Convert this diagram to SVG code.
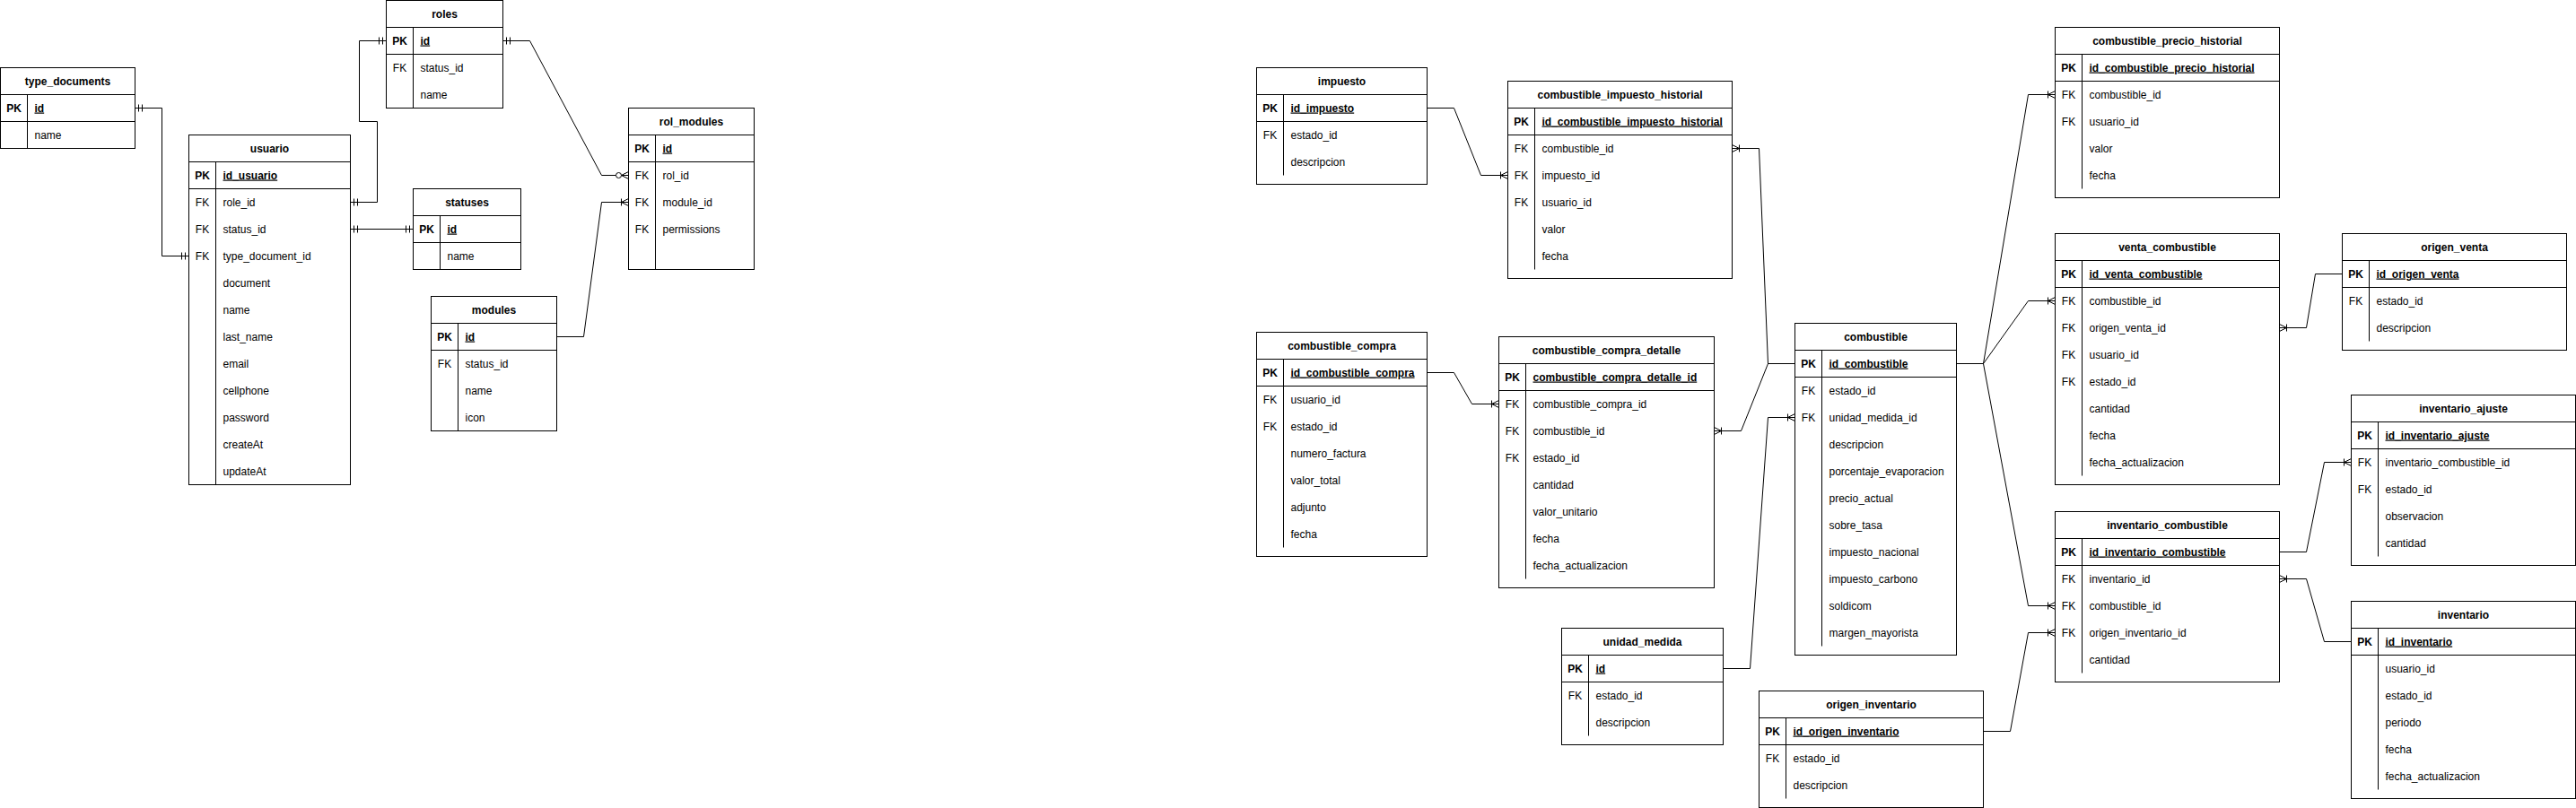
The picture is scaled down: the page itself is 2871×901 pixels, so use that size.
<svg xmlns="http://www.w3.org/2000/svg" width="2871" height="901" viewBox="0 0 2871 901">
<style>
.box{fill:#ffffff;stroke:#000000;stroke-width:1}
.ln{stroke:#000000;stroke-width:1;fill:none}
text{font-family:"Liberation Sans",Arial,Helvetica,sans-serif;font-size:12px;fill:#000000}
.title{font-weight:bold;text-anchor:middle}
.key{text-anchor:middle}
.pk{font-weight:bold}
.pkf{font-weight:bold;text-decoration:underline}
.conn path{stroke:#000000;stroke-width:1;fill:none}
</style>
<defs>
<marker id="mOne" markerUnits="userSpaceOnUse" orient="auto-start-reverse" refX="0" refY="0" markerWidth="20" markerHeight="20" viewBox="-16 -10 20 20" overflow="visible">
<path d="M-4,-4 V4 M-8,-4 V4" stroke="#000" stroke-width="1" fill="none"/>
</marker>
<marker id="mMany" markerUnits="userSpaceOnUse" orient="auto-start-reverse" refX="0" refY="0" markerWidth="20" markerHeight="20" viewBox="-16 -10 20 20" overflow="visible">
<path d="M0,-4 L-8,0 L0,4 M-8,-4 V4" stroke="#000" stroke-width="1" fill="none"/>
</marker>
<marker id="mZeroMany" markerUnits="userSpaceOnUse" orient="auto-start-reverse" refX="0" refY="0" markerWidth="20" markerHeight="20" viewBox="-16 -10 20 20" overflow="visible">
<path d="M0,-4 L-8,0 L0,4" stroke="#000" stroke-width="1" fill="none"/>
<circle cx="-11" cy="0" r="3" fill="#fff" stroke="#000" stroke-width="1"/>
</marker>
</defs>
<rect x="0" y="0" width="2871" height="901" fill="#ffffff"/>
<g transform="translate(0.5,0.5)">

<g id="type_documents">
<rect class="box" x="0" y="75" width="150" height="90"/>
<path class="ln" d="M0,105 H150 M0,135 H150 M30,105 V165"/>
<text class="title" x="75" y="94">type_documents</text>
<text class="key pk" x="15" y="124">PK</text><text class="pkf" x="38" y="124">id</text>
<text x="38" y="154">name</text>
</g>

<g id="roles">
<rect class="box" x="430" y="0" width="130" height="120"/>
<path class="ln" d="M430,30 H560 M430,60 H560 M460,30 V120"/>
<text class="title" x="495" y="19">roles</text>
<text class="key pk" x="445" y="49">PK</text><text class="pkf" x="468" y="49">id</text>
<text class="key" x="445" y="79">FK</text><text x="468" y="79">status_id</text>
<text x="468" y="109">name</text>
</g>

<g id="usuario">
<rect class="box" x="210" y="150" width="180" height="390"/>
<path class="ln" d="M210,180 H390 M210,210 H390 M240,180 V540"/>
<text class="title" x="300" y="169">usuario</text>
<text class="key pk" x="225" y="199">PK</text><text class="pkf" x="248" y="199">id_usuario</text>
<text class="key" x="225" y="229">FK</text><text x="248" y="229">role_id</text>
<text class="key" x="225" y="259">FK</text><text x="248" y="259">status_id</text>
<text class="key" x="225" y="289">FK</text><text x="248" y="289">type_document_id</text>
<text x="248" y="319">document</text>
<text x="248" y="349">name</text>
<text x="248" y="379">last_name</text>
<text x="248" y="409">email</text>
<text x="248" y="439">cellphone</text>
<text x="248" y="469">password</text>
<text x="248" y="499">createAt</text>
<text x="248" y="529">updateAt</text>
</g>

<g id="statuses">
<rect class="box" x="460" y="210" width="120" height="90"/>
<path class="ln" d="M460,240 H580 M460,270 H580 M490,240 V300"/>
<text class="title" x="520" y="229">statuses</text>
<text class="key pk" x="475" y="259">PK</text><text class="pkf" x="498" y="259">id</text>
<text x="498" y="289">name</text>
</g>

<g id="modules">
<rect class="box" x="480" y="330" width="140" height="150"/>
<path class="ln" d="M480,360 H620 M480,390 H620 M510,360 V480"/>
<text class="title" x="550" y="349">modules</text>
<text class="key pk" x="495" y="379">PK</text><text class="pkf" x="518" y="379">id</text>
<text class="key" x="495" y="409">FK</text><text x="518" y="409">status_id</text>
<text x="518" y="439">name</text>
<text x="518" y="469">icon</text>
</g>

<g id="rol_modules">
<rect class="box" x="700" y="120" width="140" height="180"/>
<path class="ln" d="M700,150 H840 M700,180 H840 M730,150 V300"/>
<text class="title" x="770" y="139">rol_modules</text>
<text class="key pk" x="715" y="169">PK</text><text class="pkf" x="738" y="169">id</text>
<text class="key" x="715" y="199">FK</text><text x="738" y="199">rol_id</text>
<text class="key" x="715" y="229">FK</text><text x="738" y="229">module_id</text>
<text class="key" x="715" y="259">FK</text><text x="738" y="259">permissions</text>
</g>

<g id="impuesto">
<rect class="box" x="1400" y="75" width="190" height="130"/>
<path class="ln" d="M1400,105 H1590 M1400,135 H1590 M1430,105 V195"/>
<text class="title" x="1495" y="94">impuesto</text>
<text class="key pk" x="1415" y="124">PK</text><text class="pkf" x="1438" y="124">id_impuesto</text>
<text class="key" x="1415" y="154">FK</text><text x="1438" y="154">estado_id</text>
<text x="1438" y="184">descripcion</text>
</g>

<g id="combustible_impuesto_historial">
<rect class="box" x="1680" y="90" width="250" height="220"/>
<path class="ln" d="M1680,120 H1930 M1680,150 H1930 M1710,120 V300"/>
<text class="title" x="1805" y="109">combustible_impuesto_historial</text>
<text class="key pk" x="1695" y="139">PK</text><text class="pkf" x="1718" y="139">id_combustible_impuesto_historial</text>
<text class="key" x="1695" y="169">FK</text><text x="1718" y="169">combustible_id</text>
<text class="key" x="1695" y="199">FK</text><text x="1718" y="199">impuesto_id</text>
<text class="key" x="1695" y="229">FK</text><text x="1718" y="229">usuario_id</text>
<text x="1718" y="259">valor</text>
<text x="1718" y="289">fecha</text>
</g>

<g id="combustible_compra">
<rect class="box" x="1400" y="370" width="190" height="250"/>
<path class="ln" d="M1400,400 H1590 M1400,430 H1590 M1430,400 V610"/>
<text class="title" x="1495" y="389">combustible_compra</text>
<text class="key pk" x="1415" y="419">PK</text><text class="pkf" x="1438" y="419">id_combustible_compra</text>
<text class="key" x="1415" y="449">FK</text><text x="1438" y="449">usuario_id</text>
<text class="key" x="1415" y="479">FK</text><text x="1438" y="479">estado_id</text>
<text x="1438" y="509">numero_factura</text>
<text x="1438" y="539">valor_total</text>
<text x="1438" y="569">adjunto</text>
<text x="1438" y="599">fecha</text>
</g>

<g id="combustible_compra_detalle">
<rect class="box" x="1670" y="375" width="240" height="280"/>
<path class="ln" d="M1670,405 H1910 M1670,435 H1910 M1700,405 V645"/>
<text class="title" x="1790" y="394">combustible_compra_detalle</text>
<text class="key pk" x="1685" y="424">PK</text><text class="pkf" x="1708" y="424">combustible_compra_detalle_id</text>
<text class="key" x="1685" y="454">FK</text><text x="1708" y="454">combustible_compra_id</text>
<text class="key" x="1685" y="484">FK</text><text x="1708" y="484">combustible_id</text>
<text class="key" x="1685" y="514">FK</text><text x="1708" y="514">estado_id</text>
<text x="1708" y="544">cantidad</text>
<text x="1708" y="574">valor_unitario</text>
<text x="1708" y="604">fecha</text>
<text x="1708" y="634">fecha_actualizacion</text>
</g>

<g id="combustible">
<rect class="box" x="2000" y="360" width="180" height="370"/>
<path class="ln" d="M2000,390 H2180 M2000,420 H2180 M2030,390 V720"/>
<text class="title" x="2090" y="379">combustible</text>
<text class="key pk" x="2015" y="409">PK</text><text class="pkf" x="2038" y="409">id_combustible</text>
<text class="key" x="2015" y="439">FK</text><text x="2038" y="439">estado_id</text>
<text class="key" x="2015" y="469">FK</text><text x="2038" y="469">unidad_medida_id</text>
<text x="2038" y="499">descripcion</text>
<text x="2038" y="529">porcentaje_evaporacion</text>
<text x="2038" y="559">precio_actual</text>
<text x="2038" y="589">sobre_tasa</text>
<text x="2038" y="619">impuesto_nacional</text>
<text x="2038" y="649">impuesto_carbono</text>
<text x="2038" y="679">soldicom</text>
<text x="2038" y="709">margen_mayorista</text>
</g>

<g id="unidad_medida">
<rect class="box" x="1740" y="700" width="180" height="130"/>
<path class="ln" d="M1740,730 H1920 M1740,760 H1920 M1770,730 V820"/>
<text class="title" x="1830" y="719">unidad_medida</text>
<text class="key pk" x="1755" y="749">PK</text><text class="pkf" x="1778" y="749">id</text>
<text class="key" x="1755" y="779">FK</text><text x="1778" y="779">estado_id</text>
<text x="1778" y="809">descripcion</text>
</g>

<g id="origen_inventario">
<rect class="box" x="1960" y="770" width="250" height="130"/>
<path class="ln" d="M1960,800 H2210 M1960,830 H2210 M1990,800 V890"/>
<text class="title" x="2085" y="789">origen_inventario</text>
<text class="key pk" x="1975" y="819">PK</text><text class="pkf" x="1998" y="819">id_origen_inventario</text>
<text class="key" x="1975" y="849">FK</text><text x="1998" y="849">estado_id</text>
<text x="1998" y="879">descripcion</text>
</g>

<g id="combustible_precio_historial">
<rect class="box" x="2290" y="30" width="250" height="190"/>
<path class="ln" d="M2290,60 H2540 M2290,90 H2540 M2320,60 V210"/>
<text class="title" x="2415" y="49">combustible_precio_historial</text>
<text class="key pk" x="2305" y="79">PK</text><text class="pkf" x="2328" y="79">id_combustible_precio_historial</text>
<text class="key" x="2305" y="109">FK</text><text x="2328" y="109">combustible_id</text>
<text class="key" x="2305" y="139">FK</text><text x="2328" y="139">usuario_id</text>
<text x="2328" y="169">valor</text>
<text x="2328" y="199">fecha</text>
</g>

<g id="venta_combustible">
<rect class="box" x="2290" y="260" width="250" height="280"/>
<path class="ln" d="M2290,290 H2540 M2290,320 H2540 M2320,290 V530"/>
<text class="title" x="2415" y="279">venta_combustible</text>
<text class="key pk" x="2305" y="309">PK</text><text class="pkf" x="2328" y="309">id_venta_combustible</text>
<text class="key" x="2305" y="339">FK</text><text x="2328" y="339">combustible_id</text>
<text class="key" x="2305" y="369">FK</text><text x="2328" y="369">origen_venta_id</text>
<text class="key" x="2305" y="399">FK</text><text x="2328" y="399">usuario_id</text>
<text class="key" x="2305" y="429">FK</text><text x="2328" y="429">estado_id</text>
<text x="2328" y="459">cantidad</text>
<text x="2328" y="489">fecha</text>
<text x="2328" y="519">fecha_actualizacion</text>
</g>

<g id="origen_venta">
<rect class="box" x="2610" y="260" width="250" height="130"/>
<path class="ln" d="M2610,290 H2860 M2610,320 H2860 M2640,290 V380"/>
<text class="title" x="2735" y="279">origen_venta</text>
<text class="key pk" x="2625" y="309">PK</text><text class="pkf" x="2648" y="309">id_origen_venta</text>
<text class="key" x="2625" y="339">FK</text><text x="2648" y="339">estado_id</text>
<text x="2648" y="369">descripcion</text>
</g>

<g id="inventario_ajuste">
<rect class="box" x="2620" y="440" width="250" height="190"/>
<path class="ln" d="M2620,470 H2870 M2620,500 H2870 M2650,470 V620"/>
<text class="title" x="2745" y="459">inventario_ajuste</text>
<text class="key pk" x="2635" y="489">PK</text><text class="pkf" x="2658" y="489">id_inventario_ajuste</text>
<text class="key" x="2635" y="519">FK</text><text x="2658" y="519">inventario_combustible_id</text>
<text class="key" x="2635" y="549">FK</text><text x="2658" y="549">estado_id</text>
<text x="2658" y="579">observacion</text>
<text x="2658" y="609">cantidad</text>
</g>

<g id="inventario_combustible">
<rect class="box" x="2290" y="570" width="250" height="190"/>
<path class="ln" d="M2290,600 H2540 M2290,630 H2540 M2320,600 V750"/>
<text class="title" x="2415" y="589">inventario_combustible</text>
<text class="key pk" x="2305" y="619">PK</text><text class="pkf" x="2328" y="619">id_inventario_combustible</text>
<text class="key" x="2305" y="649">FK</text><text x="2328" y="649">inventario_id</text>
<text class="key" x="2305" y="679">FK</text><text x="2328" y="679">combustible_id</text>
<text class="key" x="2305" y="709">FK</text><text x="2328" y="709">origen_inventario_id</text>
<text x="2328" y="739">cantidad</text>
</g>

<g id="inventario">
<rect class="box" x="2620" y="670" width="250" height="220"/>
<path class="ln" d="M2620,700 H2870 M2620,730 H2870 M2650,700 V880"/>
<text class="title" x="2745" y="689">inventario</text>
<text class="key pk" x="2635" y="719">PK</text><text class="pkf" x="2658" y="719">id_inventario</text>
<text x="2658" y="749">usuario_id</text>
<text x="2658" y="779">estado_id</text>
<text x="2658" y="809">periodo</text>
<text x="2658" y="839">fecha</text>
<text x="2658" y="869">fecha_actualizacion</text>
</g>

<g id="connectors" class="conn">
<path d="M150,120 H180 V285 H210" marker-start="url(#mOne)" marker-end="url(#mOne)"/>
<path d="M390,225 H420 V135 H400 V45 H430" marker-start="url(#mOne)" marker-end="url(#mOne)"/>
<path d="M390,255 H460" marker-start="url(#mOne)" marker-end="url(#mOne)"/>
<path d="M560,45 H590 L670,195 H700" marker-start="url(#mOne)" marker-end="url(#mZeroMany)"/>
<path d="M620,375 H650 L670,225 H700" marker-end="url(#mMany)"/>
<path d="M1590,120 H1620 L1650,195 H1680" marker-end="url(#mMany)"/>
<path d="M2000,405 H1970 L1960,165 H1930" marker-end="url(#mMany)"/>
<path d="M2000,405 H1970 L1940,480 H1910" marker-end="url(#mMany)"/>
<path d="M1590,415 H1620 L1640,450 H1670" marker-end="url(#mMany)"/>
<path d="M1920,745 H1950 L1970,465 H2000" marker-end="url(#mMany)"/>
<path d="M2180,405 H2210 L2260,105 H2290" marker-end="url(#mMany)"/>
<path d="M2180,405 H2210 L2260,335 H2290" marker-end="url(#mMany)"/>
<path d="M2180,405 H2210 L2260,675 H2290" marker-end="url(#mMany)"/>
<path d="M2210,815 H2240 L2260,705 H2290" marker-end="url(#mMany)"/>
<path d="M2610,305 H2580 L2570,365 H2540" marker-end="url(#mMany)"/>
<path d="M2540,615 H2570 L2590,515 H2620" marker-end="url(#mMany)"/>
<path d="M2620,715 H2590 L2570,645 H2540" marker-end="url(#mMany)"/>
</g>

</g>
</svg>
